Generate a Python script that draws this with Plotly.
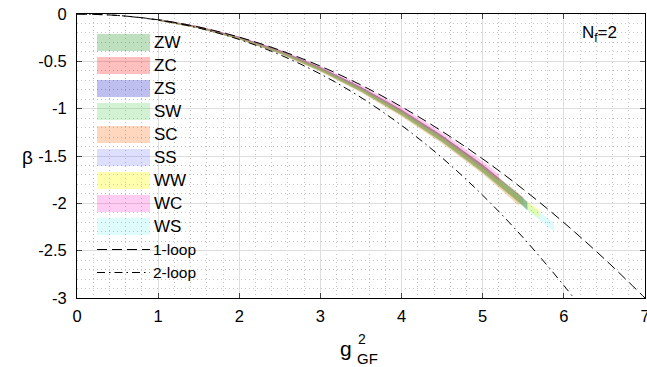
import plotly.graph_objects as go

# ---------------- data ----------------
loop_x = [0.0, 0.5, 1.0, 1.5, 2.0, 2.5, 3.0, 3.5, 4.0, 4.5, 5.0, 5.5, 6.0, 6.5, 7.0]
loop1_y = [0.0, -0.0153, -0.0612, -0.1378, -0.2449, -0.3826, -0.551, -0.750,
           -0.980, -1.240, -1.531, -1.852, -2.204, -2.587, -3.0]
loop2_x = [0.0, 0.5, 1.0, 1.5, 2.0, 2.5, 3.0, 3.5, 4.0, 4.5, 5.0, 5.5, 6.0, 6.2]
loop2_y = [0.0, -0.0157, -0.0643, -0.1482, -0.2695, -0.4306, -0.634, -0.882,
           -1.177, -1.520, -1.915, -2.364, -2.868, -3.086]

schemes = ["ZW", "ZC", "ZS", "SW", "SC", "SS", "WW", "WC", "WS"]
band_colors = ["rgba(0,130,0,0.25)", "rgba(255,0,0,0.25)", "rgba(0,0,190,0.25)",
               "rgba(80,200,80,0.25)", "rgba(255,110,20,0.28)", "rgba(90,90,255,0.2)",
               "rgba(255,255,0,0.32)", "rgba(255,0,200,0.2)", "rgba(0,230,230,0.13)"]

bx = {
    "ZW": [1.0, 1.5, 2.0, 2.5, 3.0, 3.5, 4.0, 4.5, 5.0, 5.5, 5.55],
    "ZC": [1.0, 1.5, 2.0, 2.5, 3.0, 3.5, 4.0, 4.5, 5.0, 5.5],
    "ZS": [1.0, 1.5, 2.0, 2.5, 3.0, 3.5, 4.0, 4.5, 5.0, 5.5, 5.55],
    "SW": [1.0, 1.5, 2.0, 2.5, 3.0, 3.5, 4.0, 4.5, 5.0, 5.5],
    "SC": [1.0, 1.5, 2.0, 2.5, 3.0, 3.5, 4.0, 4.5, 5.0, 5.45],
    "SS": [1.0, 1.5, 2.0, 2.5, 3.0, 3.5, 4.0, 4.5, 5.0, 5.5, 5.55],
    "WW": [1.0, 1.5, 2.0, 2.5, 3.0, 3.5, 4.0, 4.5, 5.0, 5.5, 5.7],
    "WC": [1.0, 1.5, 2.0, 2.5, 3.0, 3.5, 4.0, 4.5, 5.0, 5.2],
    "WS": [1.0, 1.5, 2.0, 2.5, 3.0, 3.5, 4.0, 4.5, 5.0, 5.5, 5.88],
}
bc = {
    "ZW": [-0.062, -0.141, -0.254, -0.400, -0.582, -0.795, -1.040, -1.318, -1.632, -1.985, -2.025],
    "ZC": [-0.062, -0.140, -0.252, -0.397, -0.578, -0.790, -1.034, -1.312, -1.625, -1.978],
    "ZS": [-0.062, -0.141, -0.255, -0.401, -0.584, -0.797, -1.043, -1.321, -1.636, -1.990, -2.030],
    "SW": [-0.062, -0.141, -0.254, -0.399, -0.581, -0.793, -1.038, -1.316, -1.630, -1.982],
    "SC": [-0.063, -0.143, -0.258, -0.407, -0.592, -0.808, -1.056, -1.336, -1.652, -1.985],
    "SS": [-0.062, -0.141, -0.254, -0.400, -0.583, -0.796, -1.041, -1.319, -1.634, -1.987, -2.027],
    "WW": [-0.062, -0.142, -0.256, -0.403, -0.586, -0.800, -1.046, -1.325, -1.640, -1.995, -2.115],
    "WC": [-0.061, -0.138, -0.248, -0.390, -0.566, -0.772, -1.010, -1.283, -1.592, -1.730],
    "WS": [-0.062, -0.142, -0.256, -0.403, -0.587, -0.801, -1.048, -1.328, -1.645, -2.000, -2.255],
}
bw = {
    "ZW": [0.008, 0.010, 0.012, 0.015, 0.018, 0.022, 0.027, 0.032, 0.037, 0.042, 0.043],
    "ZC": [0.008, 0.010, 0.012, 0.015, 0.018, 0.022, 0.027, 0.032, 0.037, 0.042],
    "ZS": [0.008, 0.010, 0.012, 0.015, 0.018, 0.022, 0.027, 0.032, 0.037, 0.042, 0.043],
    "SW": [0.008, 0.010, 0.012, 0.015, 0.018, 0.022, 0.027, 0.032, 0.037, 0.042],
    "SC": [0.008, 0.010, 0.012, 0.015, 0.018, 0.022, 0.027, 0.032, 0.037, 0.041],
    "SS": [0.008, 0.010, 0.012, 0.015, 0.018, 0.022, 0.027, 0.032, 0.037, 0.042, 0.043],
    "WW": [0.008, 0.010, 0.012, 0.015, 0.018, 0.022, 0.027, 0.032, 0.037, 0.042, 0.044],
    "WC": [0.008, 0.010, 0.012, 0.015, 0.018, 0.022, 0.027, 0.032, 0.037, 0.038],
    "WS": [0.008, 0.010, 0.012, 0.015, 0.018, 0.022, 0.027, 0.032, 0.037, 0.042, 0.045],
}

x_ticks = [0, 1, 2, 3, 4, 5, 6, 7]
x_ticklabels = ["0", "1", "2", "3", "4", "5", "6", "7"]
y_ticks = [0, -0.5, -1, -1.5, -2, -2.5, -3]
y_ticklabels = ["0", "-0.5", "-1", "-1.5", "-2", "-2.5", "-3"]

# ---------------- figure ----------------
W, H = 647, 367
X0, X1, Y0, Y1 = 77, 645, 14, 298          # plot area in pixels
L, T, R, B = X0, Y0, W - X1, H - Y1
PW, PH = X1 - X0, Y1 - Y0
FONT = "Liberation Sans, Arial, Helvetica, sans-serif"

def px(xp):
    return (xp - X0) / PW

def py(yp):
    return (Y1 - yp) / PH

fig = go.Figure()

for name, col in zip(schemes, band_colors):
    xs = bx[name]
    up = [c + w for c, w in zip(bc[name], bw[name])]
    lo = [c - w for c, w in zip(bc[name], bw[name])]
    fig.add_trace(go.Scatter(
        x=xs + xs[::-1], y=up + lo[::-1], fill="toself", fillcolor=col,
        line=dict(width=0), mode="lines", name=name, showlegend=False,
        hoverinfo="skip"))

DASH1 = "10px,5px"
DASH2 = "8px,4px,1.5px,4px"
fig.add_trace(go.Scatter(x=loop_x, y=loop1_y, mode="lines", line_shape="spline",
                         line=dict(color="black", width=1, dash=DASH1),
                         name="1-loop", showlegend=False))
fig.add_trace(go.Scatter(x=loop2_x, y=loop2_y, mode="lines", line_shape="spline",
                         line=dict(color="black", width=1, dash=DASH2),
                         name="2-loop", showlegend=False))

shapes = []
annotations = []
row_y = [42.5, 65.5, 88.5, 111.5, 134.5, 157.5, 180.5, 203.5, 226.5, 249.5, 272.5]
sw_x0, sw_x1, txt_x = 97, 150, 152
for i, (name, col) in enumerate(zip(schemes, band_colors)):
    yc = row_y[i]
    shapes.append(dict(type="rect", xref="paper", yref="paper",
                       x0=px(sw_x0), x1=px(sw_x1), y0=py(yc + 8.5), y1=py(yc - 8.5),
                       fillcolor=col, line=dict(width=0), layer="above"))
    annotations.append(dict(xref="paper", yref="paper", x=px(txt_x), y=py(yc),
                            text=name, showarrow=False, xanchor="left", yanchor="middle",
                            font=dict(family=FONT, size=17, color="black")))
for j, (lab, dsh) in enumerate([("1-loop", DASH1), ("2-loop", DASH2)]):
    yc = row_y[9 + j]
    shapes.append(dict(type="line", xref="paper", yref="paper",
                       x0=px(sw_x0), x1=px(sw_x1), y0=py(yc), y1=py(yc),
                       line=dict(color="black", width=1, dash=dsh), layer="above"))
    annotations.append(dict(xref="paper", yref="paper", x=px(txt_x - 1), y=py(yc),
                            text=lab, showarrow=False, xanchor="left", yanchor="middle",
                            font=dict(family=FONT, size=15.5, color="black")))

annotations.append(dict(xref="paper", yref="paper", x=px(580), y=py(34),
                        text="N<sub>f</sub>=2", showarrow=False, xanchor="left",
                        yanchor="middle", font=dict(family=FONT, size=17, color="black")))
annotations.append(dict(xref="paper", yref="paper", x=px(27), y=py(157),
                        text="β", showarrow=False, xanchor="center", yanchor="middle",
                        font=dict(family=FONT, size=19, color="black")))
annotations.append(dict(xref="paper", yref="paper", x=px(346), y=py(348),
                        text="g", showarrow=False, xanchor="center", yanchor="middle",
                        font=dict(family=FONT, size=21, color="black")))
annotations.append(dict(xref="paper", yref="paper", x=px(362), y=py(339),
                        text="2", showarrow=False, xanchor="center", yanchor="middle",
                        font=dict(family=FONT, size=14, color="black")))
annotations.append(dict(xref="paper", yref="paper", x=px(355), y=py(358),
                        text="GF", showarrow=False, xanchor="left", yanchor="middle",
                        font=dict(family=FONT, size=15, color="black")))

axis_common = dict(
    showline=True, linecolor="black", linewidth=1, mirror="ticks",
    ticks="inside", ticklen=5, tickcolor="#444", tickwidth=1,
    showgrid=True, gridcolor="#dedede", gridwidth=1, zeroline=False,
    tickfont=dict(family=FONT, size=16.5, color="black"),
    ticklabeloverflow="allow", automargin=False,
)
minor_common = dict(showgrid=True, gridcolor="#c4c4c4", griddash="1px,3px", gridwidth=1)

fig.update_layout(
    width=W, height=H,
    margin=dict(l=L, r=R, t=T, b=B, pad=0, autoexpand=False),
    plot_bgcolor="white", paper_bgcolor="white",
    showlegend=False,
    shapes=shapes, annotations=annotations,
    xaxis=dict(range=[0, 7], tickvals=x_ticks, ticktext=x_ticklabels,
               minor=dict(dtick=0.2, tick0=0, **minor_common),
               ticklabelstandoff=3, **axis_common),
    yaxis=dict(range=[-3, 0], tickvals=y_ticks, ticktext=y_ticklabels,
               minor=dict(dtick=0.1, tick0=0, **minor_common),
               ticklabelstandoff=6, **axis_common),
)

fig.write_html("out.html", config={"displayModeBar": False},
               post_script="document.body.style.margin='0';"
                           "document.body.style.overflow='hidden';"
                           "document.documentElement.style.overflow='hidden';")
